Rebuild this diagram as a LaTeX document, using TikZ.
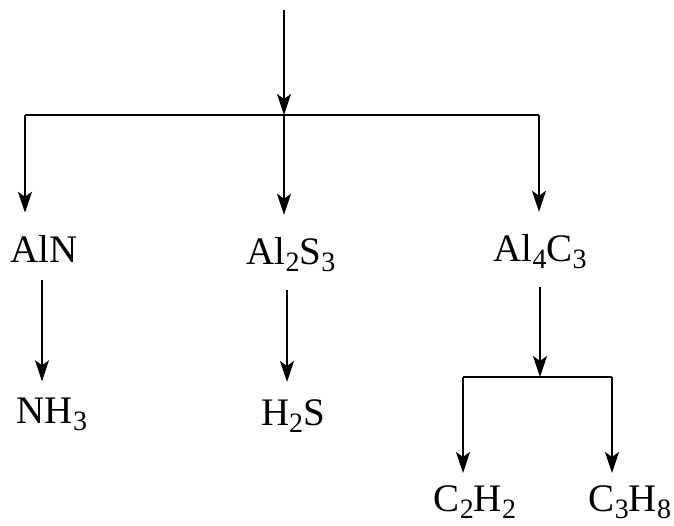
\documentclass[tikz,border=0pt]{standalone}
\usepackage{fontspec}
\setmainfont{Liberation Serif}
\usepackage{tikz}
\usetikzlibrary{arrows.meta,calc}

\newcommand{\chemsub}[1]{\raisebox{-0.2em}{\fontsize{28}{28}\selectfont #1}}

\begin{document}
\begin{tikzpicture}[x=1pt, y=-1pt,
    every node/.style={font=\fontsize{39}{39}\selectfont, inner sep=0pt, anchor=base},
    link/.style={line width=1.3pt},
    arr/.style={line width=1.3pt, -{Stealth[length=21pt, width=14pt, inset=5pt]}}]
    \useasboundingbox (0,0) rectangle (674,525);

    % compounds
    \node (aln) at (44,262) {AlN};
    \node (als) at (291,264) {Al\chemsub{2}S\chemsub{3}};
    \node (alc) at (540,261) {Al\chemsub{4}C\chemsub{3}};
    % gases
    \node (nh3) at (52,423) {NH\chemsub{3}};
    \node (h2s) at (293,425) {H\chemsub{2}S};
    \node (c2h2) at (475,511) {C\chemsub{2}H\chemsub{2}};
    \node (c3h8) at (630,511) {C\chemsub{3}H\chemsub{8}};

    % first split
    \coordinate (top) at (284,10);
    \coordinate (bl) at (25,115);
    \coordinate (bm) at (284,115);
    \coordinate (br) at (539,115);
    \draw[link] (bl) -- (br);
    \draw[arr] (top) -- (bm);
    \foreach \c/\n in {bl/aln, bm/als, br/alc} {
        \draw[arr, shorten >=22pt] (\c) -- (\c |- \n.north);
    }

    % hydrolysis
    \draw[arr, shorten <=18pt, shorten >=16pt] ([xshift=-2pt]aln.south) -- ([xshift=-2pt]aln.south |- nh3.north);
    \draw[arr, shorten <=18pt, shorten >=17pt] ([xshift=-4pt]als.south) -- ([xshift=-4pt]als.south |- h2s.north);

    % second split
    \coordinate (cm) at (540,377);
    \coordinate (cl) at (463,377);
    \coordinate (cr) at (612,377);
    \draw[link] (cl) -- (cr);
    \draw[arr, shorten <=18pt] (alc.south) -- (cm);
    \foreach \c/\n in {cl/c2h2, cr/c3h8} {
        \draw[arr, shorten >=12pt] (\c) -- (\c |- \n.north);
    }
\end{tikzpicture}
\end{document}
